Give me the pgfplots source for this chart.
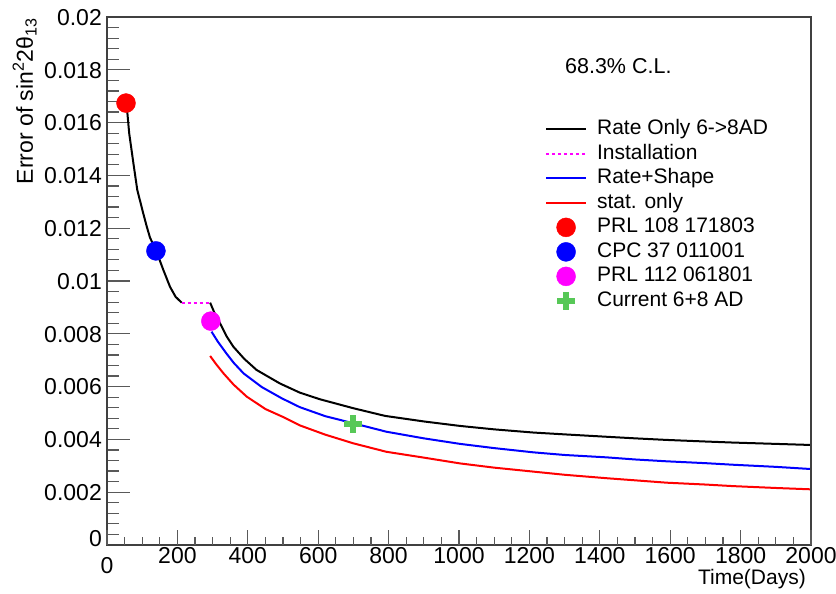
\documentclass[border=0pt]{standalone}
\usepackage{pgfplots}
\pgfplotsset{compat=1.18}
\usepackage{fontspec}
\setmainfont{Liberation Sans}
\definecolor{rootgreen}{RGB}{87,200,87}
\definecolor{rootmag}{RGB}{255,0,255}

\begin{document}
\begin{tikzpicture}
\begin{axis}[
    name=ax,
    scale only axis,
    width=704pt, height=528pt,
    xmin=0, xmax=2000, ymin=0, ymax=0.02,
    axis line style={black!75, line width=1.2pt},
    tick align=inside,
    ytick pos=left,
    xtick=\empty,
    scaled y ticks=false,
    ytick={0,0.002,0.004,0.006,0.008,0.01,0.012,0.014,0.016,0.018,0.02},
    yticklabels={\raisebox{7pt}{0},0.002,0.004,0.006,0.008,0.01,0.012,0.014,0.016,0.018,0.02},
    minor y tick num=4,
    major tick length=23pt, minor tick length=12pt,
    tick style={black!65, line width=1.2pt},
    yticklabel style={font=\fontsize{23}{23}\selectfont, inner sep=5pt, text height=16.5pt, text depth=0pt},
    unbounded coords=jump,
    legend style={draw=none, fill=white, at={(rel axis cs:0.622,0.806)}, anchor=north west,
      font=\fontsize{21}{21}\selectfont, inner sep=0pt, row sep=5pt, column sep=10pt,
      nodes={inner sep=0pt, text height=15pt, text depth=4.5pt}},
    legend cell align=left,
    legend image code/.code={\draw[mark repeat=2,mark phase=2,#1] plot coordinates {(0pt,0pt) (20pt,0pt) (40pt,0pt)};},
]
% Rate only 6->8AD
\addplot[black, line width=2pt] coordinates {
  (56,0.0166) (58,0.01635) (63,0.0156) (75,0.01446) (86,0.01345) (103,0.01256)
  (113,0.01206) (122,0.01165) (141,0.0111) (160,0.01042) (179,0.00978) (195,0.0094) (212,0.00918)
  (250,nan)
  (293,0.00918) (305,0.0088) (321,0.0084) (340,0.0079) (359,0.00751) (390,0.00705)
  (425,0.00663) (491,0.00612) (548,0.00577) (605,0.00552) (700,0.00518) (790,0.00489)
  (900,0.00468) (1003,0.00451) (1100,0.00438) (1211,0.00426) (1300,0.00419) (1419,0.0041)
  (1500,0.00404) (1590,0.00398) (1700,0.00392) (1779,0.00388) (1900,0.00383) (1997,0.00379)
};
\addlegendentry{Rate Only 6->8AD}
% installation gap
\addplot[rootmag, line width=2pt, dash pattern=on 3pt off 3pt] coordinates {(212,0.00918) (293,0.00918)};
\addlegendentry{Installation}
% rate+shape
\addplot[blue, line width=2pt] coordinates {
  (297,0.00808) (315,0.0077) (339,0.00726) (360,0.0069) (388,0.0065) (440,0.00598)
  (496,0.00556) (548,0.00522) (620,0.00488) (700,0.00461) (794,0.00429) (900,0.00404)
  (1003,0.00383) (1100,0.00367) (1211,0.00351) (1300,0.00341) (1419,0.00332) (1500,0.00324)
  (1590,0.00317) (1700,0.0031) (1779,0.00304) (1900,0.00296) (1997,0.00288)
};
\addlegendentry{Rate+Shape}
% stat only
\addplot[red, line width=2pt] coordinates {
  (293,0.00716) (310,0.00685) (331,0.0065) (360,0.00607) (397,0.00562) (450,0.00515)
  (500,0.00485) (548,0.00453) (620,0.00418) (700,0.00385) (794,0.00353) (900,0.00331)
  (1003,0.00309) (1100,0.00293) (1211,0.00278) (1300,0.00266) (1419,0.00253) (1500,0.00245)
  (1590,0.00236) (1700,0.00229) (1779,0.00223) (1900,0.00216) (1997,0.00211)
};
\addlegendentry{stat. only}
\addplot[only marks, mark=*, mark size=9.5pt, red] coordinates {(54,0.01674)};
\addlegendentry{PRL 108 171803}
\addplot[only marks, mark=*, mark size=9.5pt, blue] coordinates {(139,0.01114)};
\addlegendentry{CPC 37 011001}
\addplot[only marks, mark=*, mark size=9.5pt, rootmag] coordinates {(295,0.00848)};
\addlegendentry{PRL 112 061801}
\addplot[only marks, mark=+, mark size=9pt, rootgreen, mark options={line width=5.5pt}] coordinates {(699,0.00458)};
\addlegendentry{Current 6+8 AD}

\node[anchor=west, inner sep=0pt, font=\fontsize{21.5}{21.5}\selectfont] at (axis cs:1301,0.018144) {68.3\% C.L.};
\end{axis}
\begin{axis}[
    at={(ax.south west)}, anchor=south west,
    scale only axis,
    width=704pt, height=528pt,
    xmin=0, xmax=2000, ymin=0, ymax=0.02,
    axis line style={draw=none},
    ytick=\empty,
    scaled x ticks=false,
    xtick={0,200,400,600,800,1000,1200,1400,1600,1800,2000},
    xticklabels={\raisebox{-10pt}{0},200,400,600,800,1000,1200,1400,1600,1800,2000},
    minor x tick num=3,
    tick align=inside,
    xtick pos=lower,
    major tick length=15pt, minor tick length=8pt,
    tick style={black!65, line width=1.2pt},
    xticklabel style={font=\fontsize{23}{23}\selectfont, inner sep=2pt, text height=16.5pt},
]
\end{axis}
\node[rotate=90, anchor=base east, inner sep=0pt, font=\fontsize{23}{23}\selectfont]
  at ([xshift=-74pt,yshift=-1pt]ax.north west) {Error of sin\textsuperscript{2}2θ\textsubscript{13}};
\node[anchor=north east, inner sep=0pt, font=\fontsize{21}{21}\selectfont]
  at ([xshift=-5pt,yshift=-24pt]ax.south east) {Time(Days)};
\path (ax.south west) ++(-107pt,-48pt) coordinate (bl);
\path (ax.north east) ++(25pt,17pt) coordinate (tr);
\pgfresetboundingbox
\useasboundingbox (bl) rectangle (tr);
\end{tikzpicture}
\end{document}
